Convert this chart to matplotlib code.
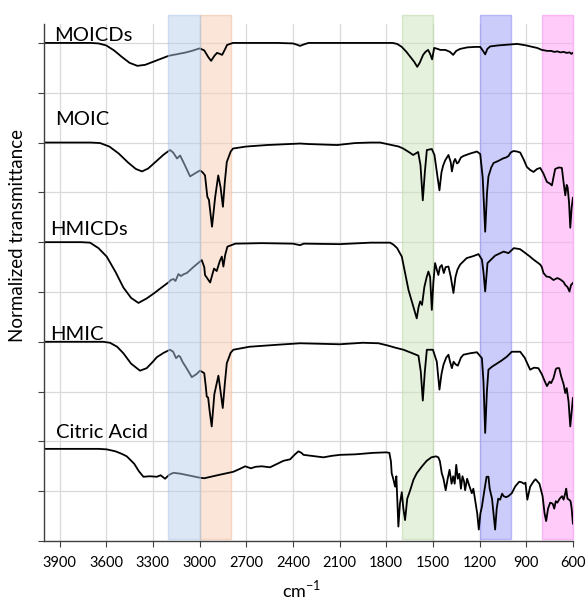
import matplotlib
matplotlib.use("Agg")
import matplotlib.pyplot as plt
import numpy as np

plt.rcParams['font.family'] = ['Lato', 'DejaVu Sans']
plt.rcParams['mathtext.fontset'] = 'custom'
plt.rcParams['mathtext.rm'] = 'Lato'

# (wavenumber cm-1, normalized transmittance; 1.0 = flat baseline, 1 unit = 1 grid step)
moicds = [(4000, 1.00), (3800, 1.00), (3700, 1.00), (3650, 0.99), (3600, 0.95), (3550, 0.85),
          (3500, 0.72), (3450, 0.60), (3400, 0.54), (3350, 0.56), (3300, 0.62), (3250, 0.68),
          (3200, 0.74), (3170, 0.76), (3150, 0.77), (3120, 0.79), (3100, 0.80), (3050, 0.84),
          (3000, 0.89), (2970, 0.85), (2945, 0.72), (2926, 0.64), (2905, 0.74), (2888, 0.80),
          (2870, 0.78), (2855, 0.76), (2840, 0.85), (2823, 0.96), (2785, 1.00), (2700, 1.00),
          (2500, 1.00), (2400, 0.99), (2370, 0.96), (2354, 0.94), (2330, 0.97), (2300, 1.00),
          (2100, 1.00), (1900, 1.00), (1760, 1.00), (1730, 0.98), (1700, 0.92), (1670, 0.82),
          (1640, 0.70), (1620, 0.62), (1601, 0.52), (1585, 0.60), (1563, 0.76), (1548, 0.82),
          (1531, 0.86), (1518, 0.78), (1505, 0.67), (1492, 0.90), (1470, 0.88), (1453, 0.86),
          (1420, 0.86), (1390, 0.82), (1370, 0.76), (1350, 0.84), (1325, 0.88), (1280, 0.91),
          (1230, 0.92), (1196, 0.92), (1180, 0.85), (1164, 0.77), (1150, 0.88), (1132, 0.93),
          (1080, 0.95), (1000, 0.97), (958, 0.98), (900, 0.95), (860, 0.92), (830, 0.90),
          (800, 0.86), (765, 0.84), (740, 0.84), (720, 0.82), (700, 0.83), (680, 0.81),
          (660, 0.82), (640, 0.80), (620, 0.81), (610, 0.78), (600, 0.80)]

moic = [(4000, 1.00), (3700, 1.00), (3640, 0.99), (3580, 0.92), (3520, 0.78), (3460, 0.60),
        (3410, 0.47), (3370, 0.42), (3330, 0.48), (3280, 0.62), (3230, 0.76), (3190, 0.85),
        (3170, 0.80), (3145, 0.68), (3125, 0.74), (3100, 0.58), (3061, 0.32), (3030, 0.38),
        (2997, 0.44), (2980, 0.40), (2965, 0.34), (2955, 0.05), (2950, -0.09), (2940, -0.15),
        (2920, -0.69), (2900, -0.10), (2880, 0.34), (2865, 0.10), (2850, -0.29), (2838, 0.20),
        (2825, 0.61), (2800, 0.82), (2785, 0.88), (2700, 0.92), (2566, 0.95), (2354, 0.98),
        (2300, 0.97), (2116, 0.95), (2000, 0.99), (1900, 1.00), (1839, 1.00), (1780, 0.96),
        (1720, 0.92), (1691, 0.88), (1650, 0.80), (1627, 0.75), (1595, 0.81), (1580, 0.55),
        (1565, -0.16), (1552, 0.40), (1539, 0.85), (1507, 0.87), (1490, 0.75), (1470, 0.30),
        (1458, 0.04), (1445, 0.40), (1434, 0.54), (1420, 0.65), (1400, 0.75), (1385, 0.60),
        (1378, 0.42), (1365, 0.62), (1357, 0.67), (1345, 0.58), (1336, 0.60), (1320, 0.70),
        (1304, 0.73), (1260, 0.78), (1217, 0.82), (1196, 0.77), (1180, 0.30), (1164, -0.79),
        (1152, 0.00), (1143, 0.32), (1125, 0.50), (1110, 0.59), (1080, 0.63), (1050, 0.68),
        (1030, 0.70), (1014, 0.73), (1000, 0.80), (982, 0.83), (960, 0.82), (939, 0.80),
        (915, 0.65), (896, 0.51), (875, 0.45), (853, 0.41), (830, 0.47), (810, 0.49),
        (790, 0.38), (767, 0.21), (750, 0.18), (735, 0.14), (725, 0.30), (714, 0.47),
        (690, 0.50), (671, 0.49), (660, 0.20), (649, -0.06), (640, 0.15), (634, 0.10),
        (625, -0.20), (617, -0.71), (608, -0.30), (600, -0.11)]

hmicds = [(4000, 1.00), (3760, 1.00), (3704, 0.99), (3650, 0.88), (3597, 0.71), (3540, 0.40),
          (3490, 0.09), (3440, -0.12), (3393, -0.22), (3340, -0.13), (3290, -0.02), (3240, 0.10),
          (3201, 0.19), (3185, 0.24), (3168, 0.26), (3155, 0.22), (3136, 0.36), (3120, 0.32),
          (3100, 0.36), (3082, 0.38), (3040, 0.50), (2986, 0.64), (2970, 0.50), (2965, 0.34),
          (2945, 0.25), (2932, 0.19), (2918, 0.35), (2907, 0.47), (2890, 0.42), (2870, 0.62),
          (2857, 0.71), (2847, 0.51), (2835, 0.75), (2821, 0.91), (2770, 0.97), (2600, 0.98),
          (2400, 0.97), (2370, 0.95), (2354, 0.94), (2330, 0.97), (2100, 0.96), (1900, 0.99),
          (1775, 0.99), (1754, 0.95), (1730, 0.88), (1700, 0.71), (1680, 0.40), (1657, 0.04),
          (1630, -0.25), (1604, -0.53), (1592, -0.30), (1582, -0.19), (1570, -0.26), (1555, 0.10),
          (1540, 0.30), (1529, 0.41), (1518, 0.30), (1507, -0.36), (1497, 0.20), (1486, 0.58),
          (1475, 0.45), (1465, 0.34), (1455, 0.50), (1443, 0.54), (1430, 0.38), (1418, 0.50),
          (1400, 0.51), (1385, 0.30), (1368, -0.02), (1355, 0.30), (1342, 0.45), (1325, 0.55),
          (1283, 0.68), (1240, 0.72), (1207, 0.76), (1185, 0.65), (1175, 0.40), (1164, 0.01),
          (1155, 0.35), (1149, 0.58), (1100, 0.73), (1046, 0.81), (1014, 0.78), (980, 0.88),
          (940, 0.86), (918, 0.81), (880, 0.72), (853, 0.65), (810, 0.55), (800, 0.50),
          (789, 0.38), (770, 0.31), (750, 0.30), (725, 0.24), (700, 0.28), (680, 0.25),
          (660, 0.20), (649, 0.14), (635, 0.10), (622, 0.01), (612, 0.14), (600, 0.18)]

hmic = [(4000, 1.00), (3620, 1.00), (3576, 0.98), (3530, 0.90), (3490, 0.77), (3440, 0.56),
        (3383, 0.42), (3340, 0.47), (3300, 0.60), (3275, 0.69), (3230, 0.78), (3190, 0.84),
        (3170, 0.80), (3151, 0.67), (3135, 0.72), (3125, 0.70), (3110, 0.60), (3080, 0.45),
        (3050, 0.29), (3020, 0.35), (2997, 0.42), (2970, 0.37), (2960, 0.10), (2954, -0.10),
        (2945, -0.12), (2935, -0.40), (2922, -0.70), (2905, -0.05), (2879, 0.32), (2865, 0.00),
        (2851, -0.33), (2838, 0.15), (2825, 0.57), (2800, 0.78), (2783, 0.84), (2680, 0.90),
        (2500, 0.94), (2354, 0.97), (2100, 0.95), (1950, 0.98), (1850, 0.97), (1796, 0.93),
        (1740, 0.88), (1689, 0.84), (1640, 0.78), (1593, 0.72), (1578, 0.40), (1565, -0.18),
        (1552, 0.40), (1539, 0.84), (1500, 0.84), (1475, 0.60), (1458, 0.04), (1445, 0.35),
        (1432, 0.54), (1415, 0.68), (1400, 0.74), (1390, 0.60), (1378, 0.47), (1367, 0.60),
        (1355, 0.55), (1340, 0.52), (1320, 0.68), (1304, 0.74), (1260, 0.77), (1217, 0.79),
        (1185, 0.67), (1175, 0.20), (1164, -0.83), (1153, 0.00), (1143, 0.44), (1120, 0.50),
        (1100, 0.54), (1060, 0.62), (1025, 0.70), (993, 0.80), (960, 0.80), (939, 0.80),
        (910, 0.68), (875, 0.44), (850, 0.48), (822, 0.47), (800, 0.35), (780, 0.20),
        (767, 0.11), (750, 0.20), (740, 0.17), (725, 0.27), (710, 0.45), (703, 0.47),
        (688, 0.47), (675, 0.30), (660, 0.15), (649, -0.03), (640, 0.07), (628, -0.20),
        (617, -0.70), (608, -0.40), (600, -0.13)]

citric_acid = [(4000, 1.00), (3650, 1.00), (3597, 0.99), (3540, 0.95), (3500, 0.90), (3468, 0.85),
               (3420, 0.70), (3390, 0.55), (3361, 0.44), (3320, 0.45), (3275, 0.44), (3250, 0.47),
               (3222, 0.40), (3195, 0.48), (3168, 0.52), (3120, 0.50), (3060, 0.46), (2997, 0.42),
               (2970, 0.41), (2900, 0.46), (2840, 0.50), (2783, 0.54), (2740, 0.60), (2707, 0.65),
               (2670, 0.61), (2640, 0.64), (2600, 0.65), (2547, 0.63), (2500, 0.70), (2461, 0.76),
               (2430, 0.78), (2418, 0.79), (2390, 0.88), (2365, 0.95), (2345, 0.92), (2332, 0.88),
               (2280, 0.86), (2204, 0.83), (2150, 0.86), (2096, 0.88), (2000, 0.89), (1883, 0.92),
               (1800, 0.93), (1780, 0.92), (1770, 0.75), (1765, 0.51), (1755, 0.40), (1743, 0.24),
               (1735, 0.45), (1722, -0.56), (1712, -0.10), (1700, 0.13), (1690, -0.20), (1679, -0.43),
               (1665, 0.00), (1646, 0.17), (1625, 0.38), (1604, 0.51), (1570, 0.65), (1540, 0.76),
               (1510, 0.83), (1480, 0.85), (1465, 0.83), (1455, 0.75), (1443, 0.51), (1432, 0.40),
               (1418, 0.17), (1405, 0.40), (1393, 0.58), (1380, 0.30), (1370, 0.45), (1360, 0.30),
               (1350, 0.68), (1340, 0.40), (1330, 0.50), (1320, 0.20), (1310, 0.45), (1300, 0.35),
               (1293, 0.17), (1280, 0.40), (1265, 0.25), (1250, 0.11), (1240, 0.20), (1229, -0.02),
               (1215, -0.30), (1205, -0.62), (1195, -0.30), (1185, -0.16), (1170, 0.15), (1155, 0.44),
               (1143, 0.44), (1135, 0.20), (1120, 0.00), (1110, -0.30), (1100, -0.62), (1090, -0.20),
               (1080, 0.00), (1068, -0.02), (1055, 0.10), (1045, 0.05), (1030, 0.03), (1015, 0.05),
               (993, 0.11), (970, 0.25), (945, 0.34), (930, 0.33), (915, 0.30), (905, 0.32),
               (893, -0.02), (885, 0.10), (875, 0.24), (850, 0.36), (840, 0.39), (815, 0.30),
               (795, 0.05), (782, -0.30), (772, -0.45), (760, -0.20), (746, -0.08), (730, -0.10),
               (720, -0.20), (710, -0.05), (700, -0.08), (685, 0.00), (670, 0.05), (660, -0.02),
               (650, 0.10), (643, 0.20), (635, 0.00), (625, -0.02), (615, -0.05), (608, -0.20),
               (600, -0.50)]

spectra = [moicds, moic, hmicds, hmic, citric_acid]
names = ['MOICDs', 'MOIC', 'HMICDs', 'HMIC', 'Citric Acid']
offsets = [9.0, 7.0, 5.0, 3.0, 0.85]

# highlighted bands (cm-1)
bands = [(3200, 3000), (3000, 2800), (1700, 1500), (1200, 1000), (800, 600)]
band_colors = ['#b6cdec', '#f8d0b9', '#d0e4c1', '#a3a3f7', '#ffa3f7']
band_edges = ['#a9c4e8', '#f3bd9c', '#bcd8a8', '#8c8cf2', '#f88cf0']

fig = plt.figure(figsize=(5.87, 6.03), dpi=100)
ax = fig.add_axes([0.075, 0.1028, 0.901, 0.8574])

for data, off in zip(spectra, offsets):
    wn = np.array([p[0] for p in data])
    t = np.array([p[1] for p in data])
    ax.plot(wn, t + off, color='black', lw=1.3, zorder=2, solid_joinstyle='round')

for i, ((hi, lo), fc, ec) in enumerate(zip(bands, band_colors, band_edges)):
    # the first band sits on top of the traces, like in the source figure
    z = 3 if i == 0 else 1.5
    a = 0.48 if i == 0 else 0.55
    ax.axvspan(hi, lo, ymin=0.004, ymax=1.017, facecolor=fc, edgecolor=ec,
               alpha=a, lw=1.0, zorder=z, clip_on=False)

label_pos = [(3936, 10.03), (3930, 8.35), (3960, 6.14), (3960, 4.03), (3920, 2.06)]
for name, (x, y) in zip(names, label_pos):
    ax.text(x, y, name, fontsize=14.5, ha='left', va='baseline', zorder=4)

ax.set_xlim(4000, 600)
ax.set_ylim(0, 10.38)
ax.set_xticks(np.arange(3900, 500, -300))
ax.set_yticks(np.arange(0, 11, 1))
ax.set_yticklabels([])
ax.grid(True, color='#d9d9d9', lw=0.9)
ax.set_axisbelow(True)
for s in ['top', 'right']:
    ax.spines[s].set_visible(False)
for s in ['left', 'bottom']:
    ax.spines[s].set_color('#404040')
    ax.spines[s].set_linewidth(1.0)
ax.tick_params(axis='x', direction='out', length=4, color='#404040', labelsize=10.5, pad=7)
ax.tick_params(axis='y', direction='out', length=4, color='#404040')

ax.set_xlabel(r'cm$^{\mathregular{-1}}$', fontsize=13)
ax.xaxis.set_label_coords(0.488, -0.072)
ax.set_ylabel('Normalized transmittance', fontsize=13.5)
ax.yaxis.set_label_coords(-0.034, 0.59)

fig.savefig('out.png', dpi=100)
